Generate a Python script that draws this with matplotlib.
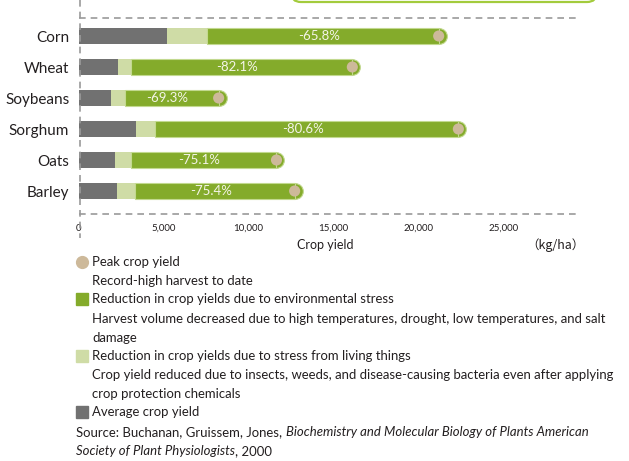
import matplotlib
matplotlib.use("Agg")
import matplotlib.pyplot as plt
from matplotlib.lines import Line2D
from matplotlib.patches import FancyBboxPatch, Rectangle

plt.rcParams['font.family'] = ['Lato', 'DejaVu Sans']

# crop yields, kg/ha
crops = ["Corn", "Wheat", "Soybeans", "Sorghum", "Oats", "Barley"]
average = [5200, 2300, 1900, 3350, 2100, 2250]
biotic_loss = [2350, 750, 800, 1150, 950, 1050]
abiotic_loss = [13650, 13060, 5530, 17860, 8590, 9410]
abiotic_pct = ["-65.8%", "-82.1%", "-69.3%", "-80.6%", "-75.1%", "-75.4%"]
xticks = [0, 5000, 10000, 15000, 20000, 25000]
xticklabels = ["0", "5,000", "10,000", "15,000", "20,000", "25,000"]

GRAY = "#717171"
LIGHT = "#cfdca6"
GREEN = "#84ab2b"
EDGE = "#c2d98f"
TAN = "#cdb99a"
TXT = "#231f20"

W, H = 629, 461
fig = plt.figure(figsize=(W / 100, H / 100), dpi=100)


def fx(px):
    return px / W


def fy(py):
    return 1 - py / H


ax = fig.add_axes([fx(79), fy(214), fx(578) - fx(79), fy(18) - fy(214)])

y = list(range(len(crops)))
left_bio = [a + b for a, b in zip(average, biotic_loss)]
peak = [l + e for l, e in zip(left_bio, abiotic_loss)]

ax.barh(y, average, height=0.5, color=GRAY, zorder=3)
ax.barh(y, biotic_loss, left=average, height=0.5, color=LIGHT, zorder=3)
ax.barh(y, abiotic_loss, left=left_bio, height=0.5, color=GREEN,
        edgecolor=EDGE, linewidth=0.8, zorder=3)
# rounded cap at the end of each bar, then the peak marker
ax.scatter(peak, y, s=128, color=GREEN, edgecolors=EDGE, linewidths=0.8, zorder=2)
ax.scatter(peak, y, s=64, color=TAN, edgecolors="none", zorder=4)

for yi, l, p, lab in zip(y, left_bio, peak, abiotic_pct):
    ax.text((l + p) / 2 - 250, yi, lab, color="#f4f4e8", fontsize=9.5,
            ha="center", va="center", zorder=5)

ax.set_xlim(0, 500 / 0.017)
ax.set_ylim(5 + 23 / 31, -18 / 31)
ax.set_xticks(xticks, xticklabels)
ax.set_yticks(y, crops)
ax.tick_params(axis="x", length=0, pad=7, labelsize=7, labelcolor=TXT)
ax.tick_params(axis="y", length=0, pad=7, labelsize=11, labelcolor=TXT)
for s in ax.spines.values():
    s.set_visible(False)

# dashed frame lines
dash = dict(color="#9a9a9a", linewidth=1.2, linestyle=(0, (4, 3)))
ax.axhline(ax.get_ylim()[0], **dash, clip_on=False)
ax.axhline(ax.get_ylim()[1], **dash, clip_on=False)
fig.add_artist(Line2D([fx(79.5), fx(79.5)], [fy(0), fy(238)], **dash))

fig.text(fx(325), fy(245), "Crop yield", fontsize=9, color=TXT, ha="center", va="center")
fig.text(fx(585), fy(245), "（kg/ha）", fontsize=9, color=TXT, ha="right", va="center",
         family=["Noto Sans CJK JP", "DejaVu Sans"])

# title box edge peeking in from above
fig.add_artist(FancyBboxPatch((2.91, (H - 2) / 100), 3.06, 0.6,
                              boxstyle="round,pad=0,rounding_size=0.1",
                              transform=fig.dpi_scale_trans, facecolor="white",
                              edgecolor="#a3cb3c", linewidth=1.6))

# legend
fs = 9.45
fig.add_artist(Line2D([fx(82)], [fy(262)], marker="o", markersize=8.5,
                      color=TAN, linestyle="none"))
for py, c in [(299, GREEN), (356, LIGHT), (412, GRAY)]:
    fig.add_artist(Rectangle((fx(76), fy(py + 6)), fx(12), fy(0) - fy(12),
                             transform=fig.transFigure, color=c))

lines = [
    (262, "Peak crop yield"),
    (281, "Record-high harvest to date"),
    (299, "Reduction in crop yields due to environmental stress"),
    (319, "Harvest volume decreased due to high temperatures, drought, low temperatures, and salt"),
    (338, "damage"),
    (356, "Reduction in crop yields due to stress from living things"),
    (375, "Crop yield reduced due to insects, weeds, and disease-causing bacteria even after applying"),
    (394, "crop protection chemicals"),
    (412, "Average crop yield"),
]
for py, t in lines:
    fig.text(fx(92), fy(py), t, fontsize=fs, color=TXT, va="center")

renderer = fig.canvas.get_renderer()
t1 = fig.text(fx(76), fy(432), "Source: Buchanan, Gruissem, Jones, ", fontsize=fs, color=TXT, va="center")
x1 = t1.get_window_extent(renderer).x1
fig.text(x1 / W, fy(432), "Biochemistry and Molecular Biology of Plants American",
         fontsize=fs, color=TXT, va="center", style="italic")
t2 = fig.text(fx(76), fy(451), "Society of Plant Physiologists", fontsize=fs, color=TXT,
              va="center", style="italic")
x2 = t2.get_window_extent(renderer).x1
fig.text(x2 / W, fy(451), ", 2000", fontsize=fs, color=TXT, va="center")

fig.savefig("out.png", dpi=100)
